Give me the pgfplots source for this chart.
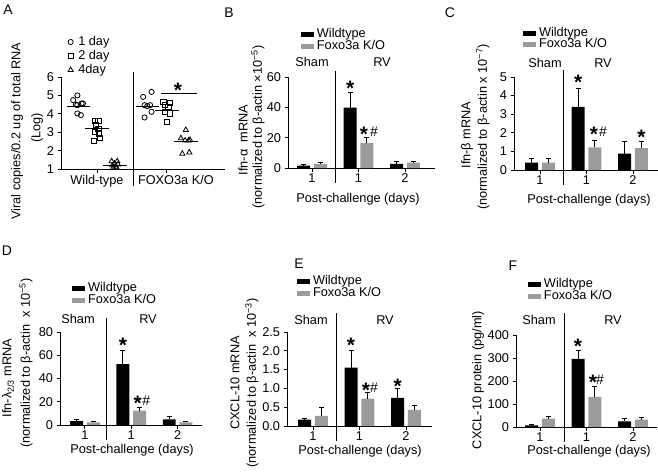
\documentclass[border=0pt]{standalone}
\usepackage{pgfplots}
\pgfplotsset{compat=1.18}
\usepackage{fontspec}
\setmainfont{Liberation Sans}
\newcommand\fs{\fontsize{12.8}{14}\selectfont}
\definecolor{bargray}{RGB}{155,155,155}
\pgfplotsset{
  panel/.style={scale only axis, axis lines*=left, clip=false, anchor=south west,
    axis line style={line width=0.9bp},
    tick style={line width=0.9bp, black},
    tick align=outside, major tick length=3.5bp,
    tick label style={font=\fs}, /pgf/number format/assume math mode=true,
    xticklabel style={yshift=1bp},
    xtick={1,2,3}, xticklabels={1,1,2}, ymin=0,
    legend style={draw=none, fill=none, font=\fs, inner sep=0pt, outer sep=0pt, row sep=0.5bp, column sep=3bp,
      nodes={inner sep=0pt, text height=8.5bp, text depth=2.5bp}, anchor=north west},
    legend cell align=left,
  },
  barleg/.style={legend image code/.code={\fill[##1] (0bp,-2.5bp) rectangle (13bp,2.5bp);}},
  markleg/.style={legend image code/.code={\draw[mark repeat=2,mark phase=2,##1] plot coordinates {(0bp,0bp)(5bp,0bp)(10bp,0bp)};}},
  wt/.style={ybar, bar width=0.28, bar shift=0pt, fill=black, draw=none, barleg,
    error bars/.cd, y dir=plus, y explicit,
    error bar style={draw=black, line width=0.9bp},
    error mark options={rotate=90, draw=black, line width=0.9bp, mark size=2.5bp}},
  ko/.style={ybar, bar width=0.28, bar shift=0pt, fill=bargray, draw=none, barleg,
    error bars/.cd, y dir=plus, y explicit,
    error bar style={draw=black, line width=0.9bp},
    error mark options={rotate=90, draw=black, line width=0.9bp, mark size=2.5bp}},
  pts/.style={only marks, black, mark options={line width=0.8bp, fill=none}},
  mean/.style={black, line width=0.9bp, forget plot},
}
\tikzset{
  star/.style={anchor=base, yshift=-10.5bp, inner sep=0pt, font=\fontsize{21}{21}\selectfont\bfseries},
  hash/.style={anchor=base, yshift=-6bp, inner sep=0pt, font=\fontsize{14}{14}\selectfont},
  lbl/.style={font=\fs, inner sep=0pt},
  plet/.style={font=\fontsize{14}{14}\selectfont, inner sep=0pt},
}
\begin{document}
\begin{tikzpicture}
\path[use as bounding box] (0bp,0bp) rectangle (658bp,-473bp);

% ---------------- Panel A
\begin{axis}[panel, markleg, at={(61bp,-169bp)}, width=164bp, height=92bp,
  xmin=0.486, xmax=2.83, ymin=1, ymax=6, ytick={1,2,3,4,5,6},
  xtick={1,2}, xticklabels={Wild-type,{\hspace*{18bp}FOXO3a K/O}},
  legend style={at={(0.043,1.44)}, row sep=3bp, column sep=5bp}]
\addplot[pts, mark=o, mark size=2.6bp] coordinates {(0.72,5.0)(0.66,4.74)(0.78,4.56)(0.72,4.47)(0.80,4.56)(0.70,4.5)(0.72,4.02)(0.77,3.93)};
\addlegendentry{1 day}
\addplot[pts, mark=square, mark size=2.6bp] coordinates {(0.97,3.63)(1.02,3.63)(0.98,3.4)(1.02,3.2)(0.97,3.03)(1.03,2.94)(0.96,2.53)(1.04,2.7)};
\addlegendentry{2 day}
\addplot[pts, mark=triangle, mark size=3bp] coordinates {(1.21,1.42)(1.29,1.42)(1.25,1.3)(1.22,1.2)(1.30,1.25)(1.26,1.12)(1.23,1.05)(1.28,1.08)};
\addlegendentry{4day}
\addplot[pts, mark=o, mark size=2.6bp, forget plot] coordinates {(1.66,4.92)(1.78,5.19)(1.68,4.47)(1.76,4.47)(1.72,4.42)(1.78,4.11)(1.68,3.8)};
\addplot[pts, mark=square, mark size=2.6bp, forget plot] coordinates {(1.95,4.65)(2.04,4.6)(1.97,4.47)(2.02,4.38)(1.97,4.11)(2.04,4.02)(2.0,3.57)};
\addplot[pts, mark=triangle, mark size=3bp, forget plot] coordinates {(2.27,3.12)(2.2,2.67)(2.26,2.55)(2.31,2.55)(2.33,2.58)(2.22,1.83)(2.32,1.9)};
\addplot[mean] coordinates {(0.57,4.38)(0.90,4.38)};
\addplot[mean] coordinates {(0.83,3.21)(1.17,3.21)};
\addplot[mean] coordinates {(1.09,1.2)(1.43,1.2)};
\addplot[mean] coordinates {(1.56,4.38)(1.89,4.38)};
\addplot[mean] coordinates {(1.83,4.2)(2.17,4.2)};
\addplot[mean] coordinates {(2.10,2.5)(2.44,2.5)};
\draw[line width=0.9bp] (axis cs:1.914,5.08) -- (axis cs:2.43,5.08);
\node[star] at (axis cs:2.157,5.46) {*};
\end{axis}
\draw[line width=0.9bp] (133bp,-72bp) -- (133bp,-186bp);
\node[lbl, rotate=90] at (17bp,-131bp) {Viral copies/0.2 ug of total RNA};
\node[lbl, rotate=90] at (37bp,-128bp) {(Log)};
\node[plet] at (8bp,-10bp) {A};

% ---------------- Panel B
\begin{axis}[panel, at={(288bp,-168bp)}, width=147bp, height=91bp,
  xmin=0.484, xmax=3.645, ymax=60, ytick={0,20,40,60},
  legend style={at={(0.088,1.526)}}]
\addplot[wt] coordinates {(0.82,1.5) +- (0,0.7) (1.82,39.8) +- (0,9.9) (2.82,2.8) +- (0,1.4)};
\addlegendentry{Wildtype}
\addplot[ko] coordinates {(1.18,2.6) +- (0,1.3) (2.18,16.4) +- (0,4.0) (3.18,3.5) +- (0,1.1)};
\addlegendentry{Foxo3a K/O}
\node[star] at (axis cs:1.82,55) {*};
\node[star] at (axis cs:2.118,24.7) {*};
\node[hash] at (axis cs:2.333,25) {\#};
\end{axis}
\draw[line width=0.9bp] (335bp,-71bp) -- (335bp,-183bp);
\node[lbl] at (312bp,-62bp) {Sham};
\node[lbl] at (382bp,-62bp) {RV};
\node[lbl, rotate=90] at (243bp,-140bp) {Ifn-α\ \ mRNA};
\node[lbl, rotate=90] at (258bp,-127bp) {(normalized to β-actin ×10\textsuperscript{−5})};
\node[lbl] at (358bp,-199bp) {Post-challenge (days)};
\node[plet] at (229bp,-13bp) {B};

% ---------------- Panel C
\begin{axis}[panel, at={(514bp,-170bp)}, width=144bp, height=93bp,
  xmin=0.441, xmax=3.538, ymax=5, ytick={0,1,2,3,4,5},
  legend style={at={(0.0625,1.531)}}]
\addplot[wt] coordinates {(0.82,0.39) +- (0,0.22) (1.82,3.39) +- (0,1.0) (2.82,0.88) +- (0,0.68)};
\addlegendentry{Wildtype}
\addplot[ko] coordinates {(1.18,0.39) +- (0,0.22) (2.18,1.22) +- (0,0.37) (3.18,1.18) +- (0,0.34)};
\addlegendentry{Foxo3a K/O}
\node[star] at (axis cs:1.82,4.89) {*};
\node[star] at (axis cs:2.161,2.12) {*};
\node[hash] at (axis cs:2.355,2.15) {\#};
\node[star] at (axis cs:3.18,1.96) {*};
\end{axis}
\draw[line width=0.9bp] (563bp,-70bp) -- (563bp,-185bp);
\node[lbl] at (545bp,-63bp) {Sham};
\node[lbl] at (603bp,-63bp) {RV};
\node[lbl, rotate=90] at (467bp,-135bp) {Ifn-β mRNA};
\node[lbl, rotate=90] at (483bp,-127bp) {(normalized to β-actin x 10\textsuperscript{−7})};
\node[lbl] at (589bp,-200bp) {Post-challenge (days)};
\node[plet] at (450bp,-13bp) {C};

% ---------------- Panel D
\begin{axis}[panel, at={(60bp,-425bp)}, width=142bp, height=93bp,
  xmin=0.462, xmax=3.527, ymax=80, ytick={0,20,40,60,80},
  legend style={at={(0.085,1.526)}}]
\addplot[wt] coordinates {(0.82,3.4) +- (0,1.8) (1.82,52.4) +- (0,12.1) (2.82,4.9) +- (0,2.3)};
\addlegendentry{Wildtype}
\addplot[ko] coordinates {(1.18,2.3) +- (0,0.9) (2.18,12.3) +- (0,2.6) (3.18,2.3) +- (0,1.1)};
\addlegendentry{Foxo3a K/O}
\node[star] at (axis cs:1.82,71) {*};
\node[star] at (axis cs:2.139,21.5) {*};
\node[hash] at (axis cs:2.322,22) {\#};
\end{axis}
\draw[line width=0.9bp] (106bp,-318bp) -- (106bp,-440bp);
\node[lbl] at (78bp,-319bp) {Sham};
\node[lbl] at (148bp,-319bp) {RV};
\node[lbl, rotate=90] at (8bp,-378bp) {Ifn-λ\textsubscript{2/3} mRNA};
\node[lbl, rotate=90] at (26bp,-363bp) {(normalized to β-actin\ \ x 10\textsuperscript{−5})};
\node[lbl] at (132bp,-450bp) {Post-challenge (days)};
\node[plet] at (7bp,-251bp) {D};

% ---------------- Panel E
\begin{axis}[panel, at={(287bp,-426bp)}, width=145bp, height=94bp,
  xmin=0.441, xmax=3.559, ymax=2.5, ytick={0,0.5,1,1.5,2,2.5},
  yticklabel style={/pgf/number format/.cd, fixed, fixed zerofill, precision=1},
  legend style={at={(0.069,1.595)}}]
\addplot[wt] coordinates {(0.82,0.17) +- (0,0.02) (1.82,1.55) +- (0,0.46) (2.82,0.75) +- (0,0.24)};
\addlegendentry{Wildtype}
\addplot[ko] coordinates {(1.18,0.27) +- (0,0.22) (2.18,0.73) +- (0,0.16) (3.18,0.43) +- (0,0.11)};
\addlegendentry{Foxo3a K/O}
\node[star] at (axis cs:1.817,2.23) {*};
\node[star] at (axis cs:2.14,1.04) {*};
\node[hash] at (axis cs:2.312,1.06) {\#};
\node[star] at (axis cs:2.82,1.14) {*};
\end{axis}
\draw[line width=0.9bp] (336bp,-313bp) -- (336bp,-441bp);
\node[lbl] at (311bp,-320bp) {Sham};
\node[lbl] at (385bp,-320bp) {RV};
\node[lbl, rotate=90] at (235bp,-383bp) {CXCL-10 mRNA};
\node[lbl, rotate=90] at (252bp,-383bp) {(normalized to β-actin\ \ x 10\textsuperscript{−3})};
\node[lbl] at (360bp,-451bp) {Post-challenge (days)};
\node[plet] at (299bp,-264bp) {E};

% ---------------- Panel F
\begin{axis}[panel, at={(516bp,-427bp)}, width=141bp, height=92bp,
  xmin=0.484, xmax=3.516, ymax=400, ytick={0,100,200,300,400},
  legend style={at={(0.085,1.608)}}]
\addplot[wt] coordinates {(0.82,7) +- (0,3) (1.82,296) +- (0,39) (2.82,25) +- (0,13)};
\addlegendentry{Wildtype}
\addplot[ko] coordinates {(1.18,36) +- (0,12) (2.18,131) +- (0,44) (3.18,32) +- (0,10)};
\addlegendentry{Foxo3a K/O}
\node[star] at (axis cs:1.817,365) {*};
\node[star] at (axis cs:2.14,209) {*};
\node[hash] at (axis cs:2.29,213) {\#};
\end{axis}
\draw[line width=0.9bp] (564bp,-313bp) -- (564bp,-442bp);
\node[lbl] at (539bp,-320bp) {Sham};
\node[lbl] at (613bp,-320bp) {RV};
\node[lbl, rotate=90] at (478bp,-380bp) {CXCL-10 protein (pg/ml)};
\node[lbl] at (589bp,-451bp) {Post-challenge (days)};
\node[plet] at (513bp,-266bp) {F};
\end{tikzpicture}
\end{document}
